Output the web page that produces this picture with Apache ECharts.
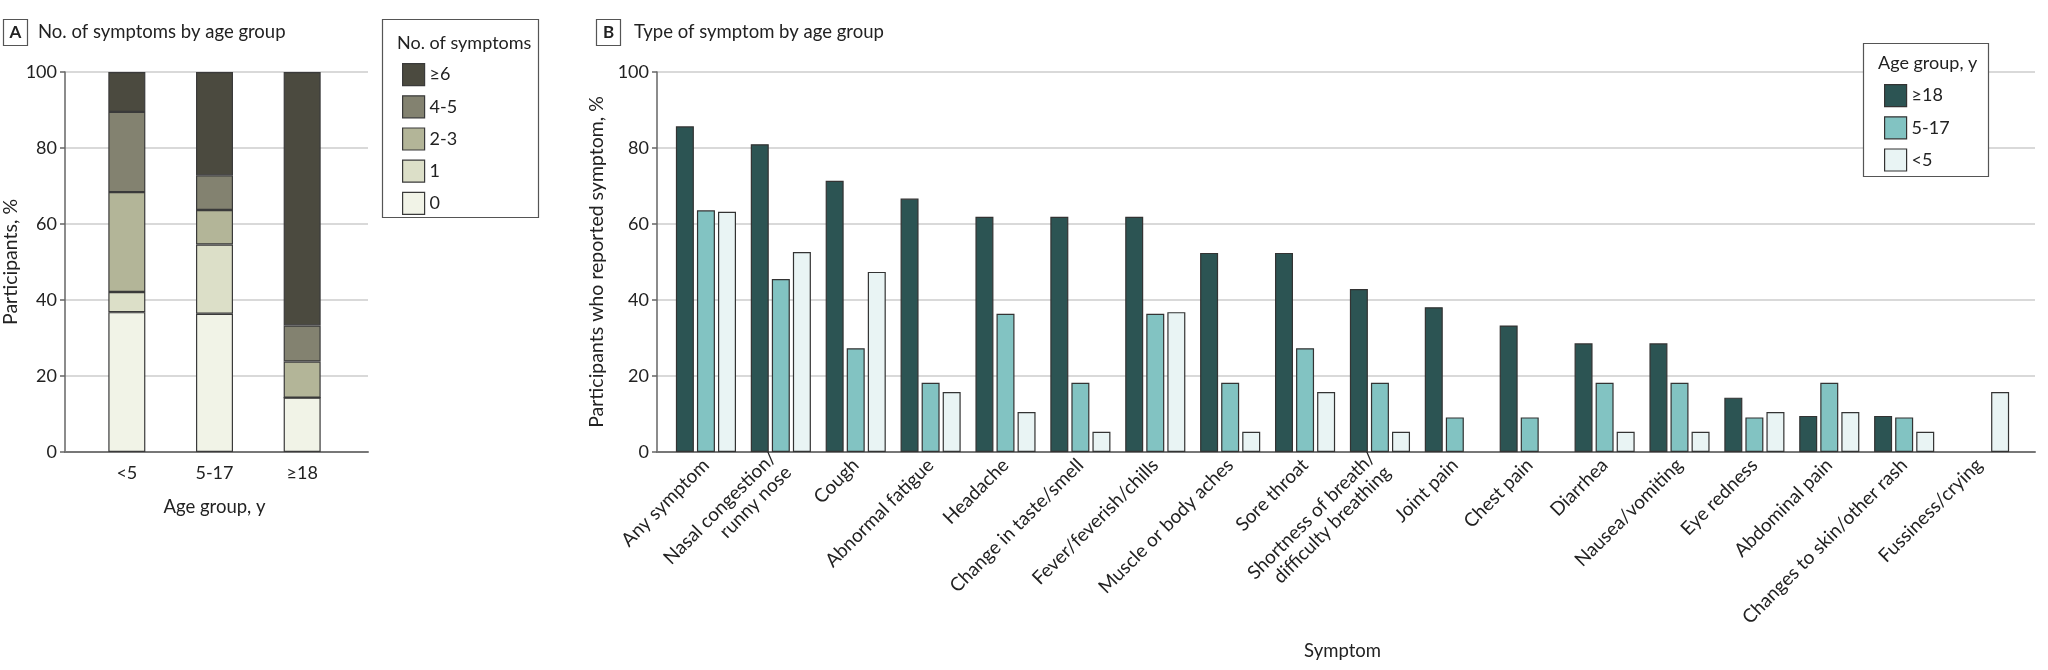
<!DOCTYPE html>
<html>
<head>
<meta charset="utf-8">
<script src="https://cdn.jsdelivr.net/npm/echarts@6/dist/echarts.min.js"></script>
<style>
html,body{margin:0;padding:0;background:#fff;}
#chart{width:2048px;height:670px;}
</style>
</head>
<body>
<div id="chart"></div>
<script>
// ---------- Panel A data ----------
const ageGroupsA = ['<5', '5-17', '≥18'];
const countNames = ['0', '1', '2-3', '4-5', '≥6'];
const count0 = [36.8, 36.4, 14.3];
const count1 = [5.3, 18.2, 0];
const count23 = [26.3, 9.1, 9.5];
const count45 = [21.1, 9.1, 9.5];
const count6 = [10.5, 27.2, 66.7];
const yTicks = [0, 20, 40, 60, 80, 100];

// ---------- Panel B data ----------
const symptoms = [
  'Any symptom', 'Nasal congestion/\nrunny nose', 'Cough', 'Abnormal fatigue', 'Headache',
  'Change in taste/smell', 'Fever/feverish/chills', 'Muscle or body aches', 'Sore throat',
  'Shortness of breath/\ndifficulty breathing', 'Joint pain', 'Chest pain', 'Diarrhea',
  'Nausea/vomiting', 'Eye redness', 'Abdominal pain', 'Changes to skin/other rash', 'Fussiness/crying'
];
const ageNamesB = ['≥18', '5-17', '<5'];
const adults = [85.7, 81.0, 71.4, 66.7, 61.9, 61.9, 61.9, 52.4, 52.4, 42.9, 38.1, 33.3, 28.6, 28.6, 14.3, 9.5, 9.5, null];
const age5to17 = [63.6, 45.5, 27.3, 18.2, 36.4, 18.2, 36.4, 18.2, 27.3, 18.2, 9.1, 9.1, 18.2, 18.2, 9.1, 18.2, 9.1, null];
const under5 = [63.2, 52.6, 47.4, 15.8, 10.5, 5.3, 36.8, 5.3, 15.8, 5.3, null, null, 5.3, 5.3, 10.5, 10.5, 5.3, 15.8];

const FONT = 'Lato';
const TXT = '#222';
const colorsA = {'≥6': '#4b4a3f', '4-5': '#838270', '2-3': '#b3b598', '1': '#dcdfc8', '0': '#f1f3e7'};
const colorsB = {'≥18': '#2c5453', '5-17': '#82c3c2', '<5': '#e9f4f4'};
const valuesA = {'0': count0, '1': count1, '2-3': count23, '4-5': count45, '≥6': count6};
const valuesB = {'≥18': adults, '5-17': age5to17, '<5': under5};

const chart = echarts.init(document.getElementById('chart'), null, {renderer: 'canvas'});

const TOP = 72, BOTTOM = 670 - 452;

function axesY(gridIndex, name, nameGap) {
  return {
    gridIndex, type: 'value', min: 0, max: 100, interval: 20,
    name, nameLocation: 'middle', nameGap,
    nameTextStyle: {fontFamily: FONT, fontSize: 19.5, color: TXT},
    axisLine: {show: true, lineStyle: {color: '#666', width: 1.5}},
    axisTick: {show: true, length: 5, lineStyle: {color: '#666', width: 1.5}},
    axisLabel: {fontFamily: FONT, fontSize: 18, color: TXT, margin: 8},
    splitLine: {show: true, lineStyle: {color: '#d9d9d9', width: 2}}
  };
}
function hiddenY(gridIndex) {
  return {gridIndex, type: 'value', min: 0, max: 100, show: false, splitLine: {show: false}};
}
function lineX(gridIndex) {
  return {
    gridIndex, type: 'value', min: 0, max: 1,
    axisLine: {show: true, onZero: false, lineStyle: {color: '#777', width: 2}},
    axisTick: {show: false}, axisLabel: {show: false}, splitLine: {show: false}
  };
}

const seriesA = ['0', '1', '2-3', '4-5', '≥6'].map(n => ({
  name: n, type: 'bar', stack: 'a', xAxisIndex: 1, yAxisIndex: 1,
  barWidth: 37, data: valuesA[n],
  itemStyle: {color: colorsA[n], borderColor: '#3a3a3a', borderWidth: 1.2},
  emphasis: {disabled: true}
}));
const seriesB = ageNamesB.map(n => ({
  name: n, type: 'bar', xAxisIndex: 3, yAxisIndex: 3,
  barWidth: 18, barGap: '17%', data: valuesB[n],
  itemStyle: {color: colorsB[n], borderColor: '#333', borderWidth: 1.2},
  emphasis: {disabled: true}
}));

const option = {
  backgroundColor: '#fff',
  animation: false,
  textStyle: {fontFamily: FONT},
  grid: [
    {left: 60, width: 308, top: TOP, bottom: BOTTOM},
    {left: 83, width: 263, top: TOP, bottom: BOTTOM},
    {left: 657, width: 1378, top: TOP, bottom: BOTTOM},
    {left: 668.5, width: 1348, top: TOP, bottom: BOTTOM}
  ],
  xAxis: [
    lineX(0),
    {
      gridIndex: 1, type: 'category', data: ageGroupsA,
      name: 'Age group, y', nameLocation: 'middle', nameGap: 46,
      nameTextStyle: {fontFamily: FONT, fontSize: 18.5, color: TXT},
      axisLine: {show: false}, axisTick: {show: false},
      axisLabel: {fontFamily: FONT, fontSize: 18, color: TXT, margin: 12}
    },
    lineX(2),
    {
      gridIndex: 3, type: 'category', data: symptoms,
      name: 'Symptom', nameLocation: 'middle', nameGap: 190,
      nameTextStyle: {fontFamily: FONT, fontSize: 18.5, color: TXT},
      axisLine: {show: false}, axisTick: {show: false},
      axisLabel: {fontFamily: FONT, fontSize: 19, color: TXT, rotate: 45, margin: 10, interval: 0, lineHeight: 21}
    }
  ],
  yAxis: [
    axesY(0, 'Participants, %', 44),
    hiddenY(1),
    axesY(2, 'Participants who reported symptom, %', 50),
    hiddenY(3)
  ],
  legend: [
    {
      data: ['≥6', '4-5', '2-3', '1', '0'], orient: 'vertical', left: 397, top: 58,
      itemWidth: 22, itemHeight: 22, itemGap: 9, icon: 'rect', selectedMode: false, z: 10,
      itemStyle: {borderColor: '#3a3a3a', borderWidth: 1.2},
      textStyle: {fontFamily: FONT, fontSize: 18, color: TXT}
    },
    {
      data: ageNamesB, orient: 'vertical', left: 1879, top: 79,
      itemWidth: 22, itemHeight: 22, itemGap: 9, icon: 'rect', selectedMode: false, z: 10,
      itemStyle: {borderColor: '#333', borderWidth: 1.2},
      textStyle: {fontFamily: FONT, fontSize: 18, color: TXT}
    }
  ],
  graphic: [
    {type: 'rect', z: 3, shape: {x: 3.5, y: 19.5, width: 24, height: 26}, style: {fill: '#fff', stroke: '#555', lineWidth: 1.2}},
    {type: 'text', z: 10, x: 15.5, y: 32.5, style: {text: 'A', font: 'bold 17px Lato', fill: TXT, align: 'center', verticalAlign: 'middle'}},
    {type: 'text', z: 10, x: 38, y: 32, style: {text: 'No. of symptoms by age group', font: '18.5px Lato', fill: TXT, verticalAlign: 'middle'}},
    {type: 'rect', z: 3, shape: {x: 596.5, y: 19.5, width: 24, height: 26}, style: {fill: '#fff', stroke: '#555', lineWidth: 1.2}},
    {type: 'text', z: 10, x: 608.5, y: 32.5, style: {text: 'B', font: 'bold 17px Lato', fill: TXT, align: 'center', verticalAlign: 'middle'}},
    {type: 'text', z: 10, x: 634, y: 32, style: {text: 'Type of symptom by age group', font: '18.5px Lato', fill: TXT, verticalAlign: 'middle'}},
    {type: 'rect', z: 3, shape: {x: 382.5, y: 19.5, width: 156, height: 198}, style: {fill: '#fff', stroke: '#555', lineWidth: 1.2}},
    {type: 'text', z: 10, x: 397, y: 43, style: {text: 'No. of symptoms', font: '18px Lato', fill: TXT, verticalAlign: 'middle'}},
    {type: 'rect', z: 3, shape: {x: 1863.5, y: 43.5, width: 125, height: 133}, style: {fill: '#fff', stroke: '#555', lineWidth: 1.2}},
    {type: 'text', z: 10, x: 1878, y: 63, style: {text: 'Age group, y', font: '18px Lato', fill: TXT, verticalAlign: 'middle'}}
  ],
  series: seriesA.concat(seriesB)
};
chart.setOption(option);
</script>
</body>
</html>
